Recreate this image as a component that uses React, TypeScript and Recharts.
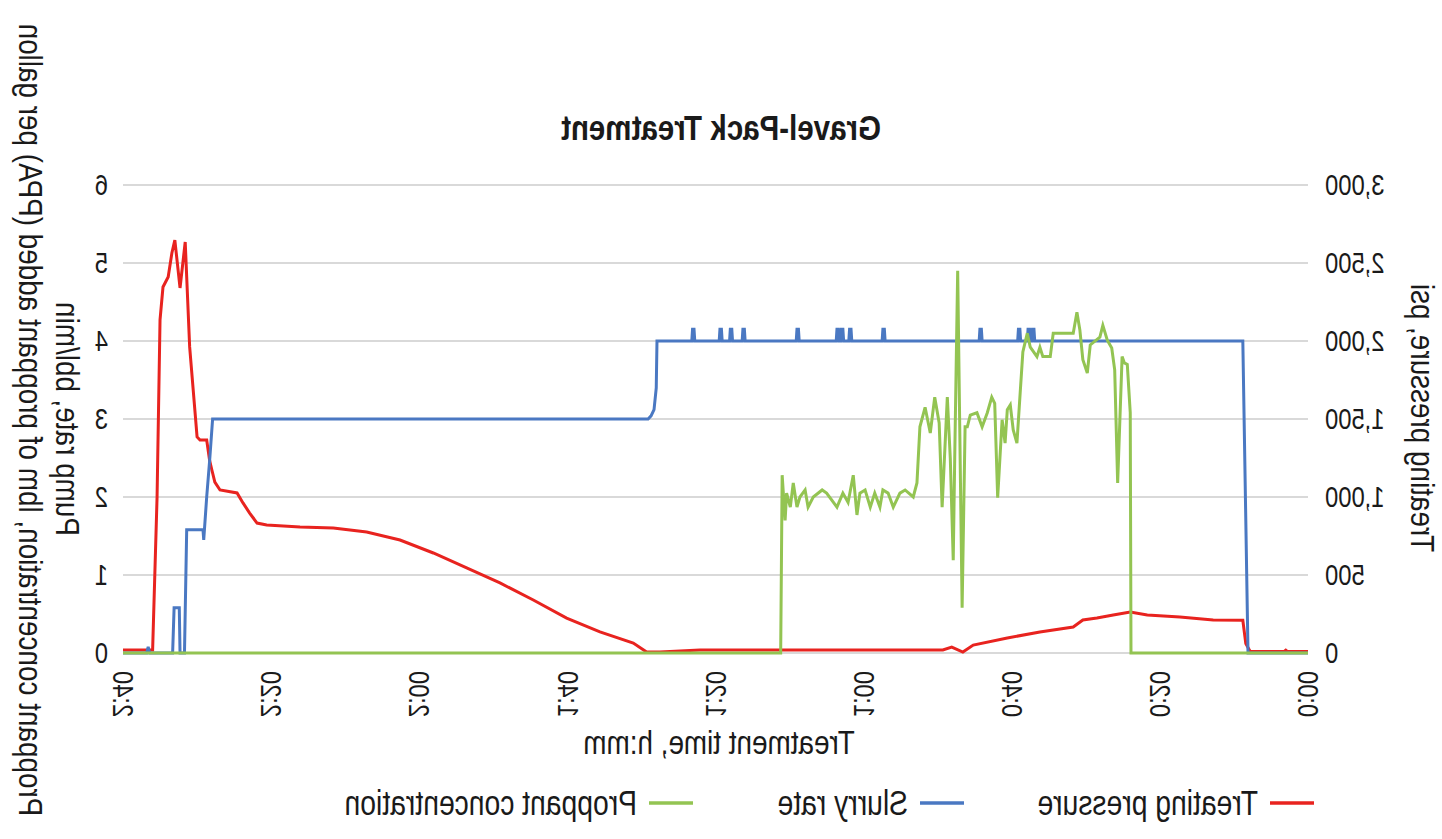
import React from 'react';
import { ComposedChart, Line, XAxis, YAxis, CartesianGrid } from 'recharts';

const FONT = "'Liberation Sans', Arial, sans-serif";
const TEXT = '#1a1a1a';
const RED = '#e8231f';
const BLUE = '#4a78c2';
const GREEN = '#93c452';
const NARROW = 0.82;

const chartTitle = 'Gravel-Pack Treatment';
const xTitle = 'Treatment time, h:mm';
const pressureTitle = 'Treating pressure, psi';
const rateTitle = 'Pump rate, bbl/min';
const concTitle = 'Proppant concentration, lbm of proppant added (PPA) per gallon';

const timeTicks = [0, 20, 40, 60, 80, 100, 120, 140, 160];
const pressureTicks = [0, 500, 1000, 1500, 2000, 2500, 3000];
const rateTicks = [0, 1, 2, 3, 4, 5, 6];

const seriesNames = ['Treating pressure', 'Slurry rate', 'Proppant concentration'];
const seriesColors = [RED, BLUE, GREEN];

// minutes
const pressureTime = [0, 2.8, 3.0, 3.2, 7.8, 8.4, 8.8, 12.8, 17.3, 21.7, 24.0, 26.3, 28.5, 30.4, 31.7, 36.2, 40.6, 45.2, 46.6, 48.1, 49.3, 55.1, 68.6, 82.1, 87.5, 89.3, 91.1, 95.6, 100.1, 104.6, 109.1, 113.6, 118.1, 122.6, 127.1, 131.6, 136.1, 140.6, 141.9, 142.9, 143.8, 144.6, 146.9, 147.6, 148.0, 148.3, 148.7, 149.6, 150.0, 151.0, 151.6, 152.3, 153.0, 153.4, 153.9, 154.6, 155.0, 155.4, 156.0, 160];
// psi
const pressureValue = [10, 10, 18, 10, 10, 60, 210, 212, 231, 244, 263, 244, 224, 212, 167, 135, 96, 51, 6, 38, 19, 19, 19, 19, 6, 6, 64, 135, 224, 340, 449, 545, 641, 724, 776, 801, 808, 821, 833, 897, 962, 1026, 1045, 1096, 1173, 1233, 1365, 1365, 1385, 1962, 2635, 2340, 2647, 2564, 2410, 2346, 2135, 1000, 20, 20];

const slurryTime = [0, 8.1, 8.8,
  36.9, 37.0, 37.2, 37.3, 37.5, 37.6, 37.8, 37.9, 38.8, 38.9, 39.1, 39.2,
  44.0, 44.1, 44.3, 44.4, 57.1, 57.2, 57.4, 57.5, 61.6, 61.7, 61.9, 62.0,
  62.7, 62.8, 63.0, 63.1, 63.3, 63.4, 63.6, 63.7, 68.7, 68.8, 69.0, 69.1,
  76.0, 76.1, 76.3, 76.4, 77.7, 77.8, 78.0, 78.1, 79.1, 79.2, 79.4, 79.5,
  82.8, 82.9, 83.1, 83.2,
  87.9, 88.0, 88.3, 88.7, 89.1, 147.9, 148.3, 148.7, 149.1, 149.2, 151.4, 151.7, 152.3, 152.4, 153.1, 153.3, 156.4, 156.6, 156.8, 160];
// bbl/min
const slurryValue = [0, 0, 4,
  4, 4.15, 4.15, 4, 4, 4.15, 4.15, 4, 4, 4.15, 4.15, 4,
  4, 4.15, 4.15, 4, 4, 4.15, 4.15, 4, 4, 4.15, 4.15, 4,
  4, 4.15, 4.15, 4, 4, 4.15, 4.15, 4, 4, 4.15, 4.15, 4,
  4, 4.15, 4.15, 4, 4, 4.15, 4.15, 4, 4, 4.15, 4.15, 4,
  4, 4.15, 4.15, 4,
  4, 3.4, 3.12, 3.04, 3, 3, 2.47, 2.0, 1.45, 1.58, 1.58, 0, 0, 0.58, 0.58, 0, 0, 0.08, 0, 0];

const proppantTime = [0, 23.9, 24.0, 24.4, 24.8, 25.1, 25.7, 26.1, 26.5, 27.1, 27.7, 28.1, 29.4, 29.8, 30.4, 30.8, 31.2, 31.7, 32.5, 34.4, 34.8, 35.8, 36.2, 36.6, 37.5, 37.9, 38.5, 38.9, 39.3, 39.8, 40.2, 40.6, 40.9, 41.3, 41.9, 42.3, 42.7, 43.3, 44.0, 44.7, 45.6, 46.0, 46.3, 46.7, 47.3, 47.7, 47.9, 48.3, 48.7, 49.4, 49.8, 50.4, 51.0, 51.7, 52.4, 52.8, 53.3, 54.4, 55.1, 56.0, 56.7, 57.4, 57.8, 58.5, 59.1, 59.8, 60.5, 60.9, 61.4, 62.1, 62.8, 63.6, 65.0, 65.6, 66.8, 67.5, 67.9, 68.6, 69.0, 69.5, 69.9, 70.4, 70.6, 71.0, 71.2, 160];
// PPA
const proppantValue = [0, 0, 3.08, 3.7, 3.72, 3.8, 2.18, 3.63, 3.91, 4.01, 4.2, 4.05, 3.95, 3.59, 3.76, 4.14, 4.37, 4.1, 4.1, 4.1, 3.8, 3.8, 3.92, 3.8, 3.92, 4.1, 3.86, 3.28, 2.69, 2.86, 3.18, 3.12, 2.69, 2.99, 1.99, 3.2, 3.28, 3.08, 2.9, 3.08, 3.05, 2.9, 2.9, 0.58, 4.9, 2.5, 1.19, 2.5, 3.28, 1.87, 2.95, 3.28, 2.82, 3.15, 2.9, 2.18, 2.0, 2.09, 2.05, 1.87, 2.05, 2.09, 1.87, 2.05, 1.87, 2.09, 2.05, 1.77, 2.28, 1.93, 2.05, 1.87, 2.05, 2.09, 2.0, 1.87, 2.09, 2.0, 1.87, 2.18, 1.87, 2.05, 1.7, 2.28, 0, 0];

const toRows = (ts: number[], vs: number[]) => ts.map((t, i) => ({ t, v: vs[i] }));
const pressureData = toRows(pressureTime, pressureValue);
const slurryData = toRows(slurryTime, slurryValue);
const proppantData = toRows(proppantTime, proppantValue);

const fmtTime = (m: number) => `${Math.floor(m / 60)}:${String(m % 60).padStart(2, '0')}`;
const fmtThousands = (v: number) => v.toLocaleString('en-US');

type NTProps = {
  x: number;
  y: number;
  angle?: number;
  anchor?: string;
  baseline?: string;
  size: number;
  weight?: string;
  children: React.ReactNode;
};

const NarrowText = ({ x, y, angle = 0, anchor = 'start', baseline, size, weight = 'normal', children }: NTProps) => (
  <text
    x={0}
    y={0}
    transform={`translate(${x}, ${y}) rotate(${angle}) scale(${NARROW}, 1)`}
    textAnchor={anchor}
    dominantBaseline={baseline}
    fontSize={size}
    fontWeight={weight}
    fill={TEXT}
    fontFamily={FONT}
  >
    {children}
  </text>
);

const TimeTick = (props: any) => {
  const { x, y, payload } = props;
  return (
    <NarrowText x={x} y={y} angle={-90} anchor="end" baseline="central" size={29}>
      {fmtTime(payload.value)}
    </NarrowText>
  );
};

const PressureTick = (props: any) => {
  const { x, y, payload } = props;
  return (
    <NarrowText x={x} y={y} anchor="end" baseline="central" size={29}>
      {fmtThousands(payload.value)}
    </NarrowText>
  );
};

const RateTick = (props: any) => {
  const { x, y, payload } = props;
  return (
    <NarrowText x={x} y={y} anchor="start" baseline="central" size={29}>
      {String(payload.value)}
    </NarrowText>
  );
};

const W = 1442;
const H = 839;

export default function App() {
  const legendX = [128, 478, 749];
  return (
    <div
      style={{
        position: 'absolute',
        left: 0,
        top: 0,
        width: W,
        height: H,
        background: '#ffffff',
        transform: 'scaleX(-1)',
        fontFamily: FONT,
      }}
    >
      <div style={{ position: 'absolute', left: 0, top: 0 }}>
        <ComposedChart width={W} height={H} margin={{ top: 185, right: 0, bottom: 86, left: 0 }}>
          <CartesianGrid yAxisId="p" vertical={false} stroke="#d9d9d9" strokeWidth={2} />
          <XAxis
            dataKey="t"
            type="number"
            domain={[0, 160]}
            ticks={timeTicks}
            allowDataOverflow
            height={100}
            axisLine={false}
            tickLine={false}
            tickSize={0}
            tickMargin={18}
            tick={<TimeTick />}
            interval={0}
          />
          <YAxis
            yAxisId="p"
            orientation="left"
            domain={[0, 3000]}
            ticks={pressureTicks}
            width={134}
            axisLine={false}
            tickLine={false}
            tickSize={0}
            tickMargin={17}
            interval={0}
            tick={<PressureTick />}
          />
          <YAxis
            yAxisId="c"
            orientation="right"
            domain={[0, 6]}
            ticks={rateTicks}
            width={123}
            axisLine={false}
            tickLine={false}
            tickSize={0}
            tickMargin={15}
            interval={0}
            tick={<RateTick />}
          />
          <Line yAxisId="p" data={pressureData} dataKey="v" type="linear" stroke={RED} strokeWidth={3} dot={false} isAnimationActive={false} />
          <Line yAxisId="c" data={slurryData} dataKey="v" type="linear" stroke={BLUE} strokeWidth={3} dot={false} isAnimationActive={false} />
          <Line yAxisId="c" data={proppantData} dataKey="v" type="linear" stroke={GREEN} strokeWidth={3} dot={false} isAnimationActive={false} />
        </ComposedChart>
      </div>
      <svg width={W} height={H} style={{ position: 'absolute', left: 0, top: 0, pointerEvents: 'none' }}>
        <NarrowText x={721} y={140} anchor="middle" size={36} weight="bold">{chartTitle}</NarrowText>
        <NarrowText x={723} y={754} anchor="middle" size={34}>{xTitle}</NarrowText>
        <NarrowText x={20} y={418} angle={-90} anchor="middle" baseline="central" size={34}>{pressureTitle}</NarrowText>
        <NarrowText x={1375} y={419} angle={-90} anchor="middle" baseline="central" size={34}>{rateTitle}</NarrowText>
        <NarrowText x={1412} y={420} angle={-90} anchor="middle" baseline="central" size={34}>{concTitle}</NarrowText>
        {seriesNames.map((name, i) => (
          <g key={name}>
            <line x1={legendX[i]} x2={legendX[i] + 44} y1={803} y2={803} stroke={seriesColors[i]} strokeWidth={3.5} />
            <NarrowText x={legendX[i] + 56} y={815} size={34.5}>{name}</NarrowText>
          </g>
        ))}
      </svg>
    </div>
  );
}
